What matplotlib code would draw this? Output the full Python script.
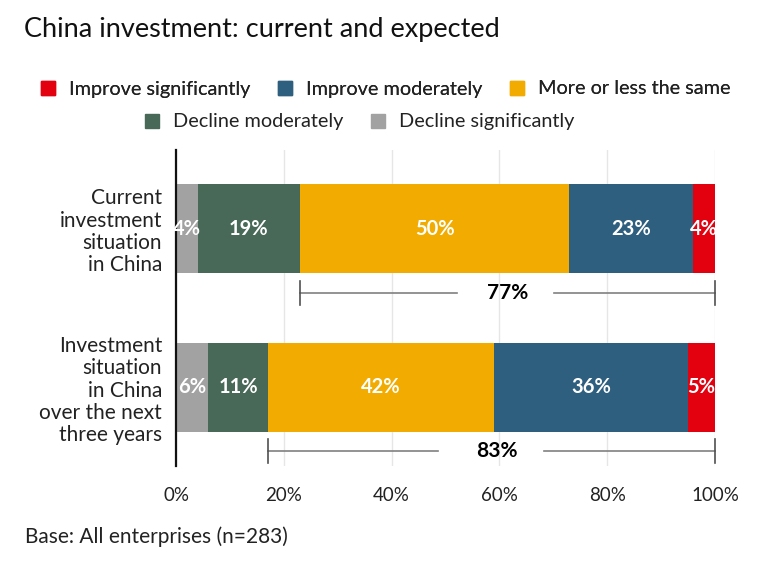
import matplotlib
matplotlib.use("Agg")
import matplotlib.pyplot as plt
from matplotlib.patches import Patch

plt.rcParams['font.family'] = ['Lato', 'DejaVu Sans']

categories = ['Current\ninvestment\nsituation\nin China',
              'Investment\nsituation\nin China\nover the next\nthree years']
series = ['Decline significantly', 'Decline moderately', 'More or less the same',
          'Improve moderately', 'Improve significantly']
values = {
    'Decline significantly': [4, 6],
    'Decline moderately': [19, 11],
    'More or less the same': [50, 42],
    'Improve moderately': [23, 36],
    'Improve significantly': [4, 5],
}
colors = {
    'Decline significantly': '#a2a2a2',
    'Decline moderately': '#486858',
    'More or less the same': '#f2ab00',
    'Improve moderately': '#2e5f7f',
    'Improve significantly': '#e3000f',
}
improve_totals = [77, 83]
xticks = [0, 20, 40, 60, 80, 100]

fig = plt.figure(figsize=(7.64, 5.63), dpi=100)
ax = fig.add_axes([176 / 764, 1 - 466 / 563, 539 / 764, 316 / 563])

ypos = [0, 1]
left = [0, 0]
for s in series:
    bars = ax.barh(ypos, values[s], left=left, height=0.56, color=colors[s], zorder=3)
    ax.bar_label(bars, labels=[f'{v}%' for v in values[s]], label_type='center',
                 color='white', fontsize=14.5, fontweight='bold', zorder=6)
    left = [a + b for a, b in zip(left, values[s])]

# brackets for "improve + same" totals
bracket_y = [0.405, 1.40]
gaps = [(52.1, 70.1), (48.7, 68.3)]
text_x = [61.5, 59.5]
for i, tot in enumerate(improve_totals):
    start = 100 - tot
    y = bracket_y[i]
    g0, g1 = gaps[i]
    ax.plot([start, g0], [y, y], color='#808080', lw=1.2, zorder=3, clip_on=False)
    ax.plot([g1, 100], [y, y], color='#808080', lw=1.2, zorder=3, clip_on=False)
    for xe in (start, 100):
        ax.plot([xe, xe], [y - 0.075, y + 0.075], color='#505050', lw=1.2, zorder=3, clip_on=False)
    ax.text(text_x[i], y, f'{tot}%', ha='center', va='center',
            fontsize=15, fontweight='bold', color='black')

ax.set_xlim(0, 100)
ax.set_ylim(1.494, -0.494)
ax.set_xticks(xticks)
ax.set_xticklabels([f'{t}%' for t in xticks], fontsize=13.5, color='#222222')
ax.set_yticks(ypos)
ax.set_yticklabels(categories, fontsize=15, color='#222222', linespacing=1.13)
ax.tick_params(length=0)
ax.tick_params(axis='y', pad=10)
ax.tick_params(axis='x', pad=15)
ax.grid(axis='x', color='#e6e6e6', lw=1, zorder=0)
for sp in ['top', 'right', 'bottom']:
    ax.spines[sp].set_visible(False)
ax.spines['left'].set_linewidth(1.6)
ax.spines['left'].set_color('#111111')
ax.spines['left'].set_zorder(5)

fig.text(24 / 764, 1 - 29 / 563, 'China investment: current and expected',
         fontsize=19.5, ha='left', va='center', color='#111111')

row1 = ['Improve significantly', 'Improve moderately', 'More or less the same']
row2 = ['Decline moderately', 'Decline significantly']
leg_kw = dict(frameon=False, fontsize=14.3, handlelength=0.7, handleheight=0.7,
              handletextpad=0.7, columnspacing=1.4, labelcolor='#222222')
l1 = fig.legend([Patch(color=colors[s]) for s in row1], row1, ncol=3,
                loc='center', bbox_to_anchor=(386 / 764, 1 - 89 / 563), **leg_kw)
fig.add_artist(l1)
fig.legend([Patch(color=colors[s]) for s in row2], row2, ncol=2,
           loc='center', bbox_to_anchor=(360 / 764, 1 - 122 / 563), **leg_kw)

fig.text(25 / 764, 1 - 537 / 563, 'Base: All enterprises (n=283)',
         fontsize=15, ha='left', va='center', color='#222222')

fig.savefig('out.png', dpi=100)
